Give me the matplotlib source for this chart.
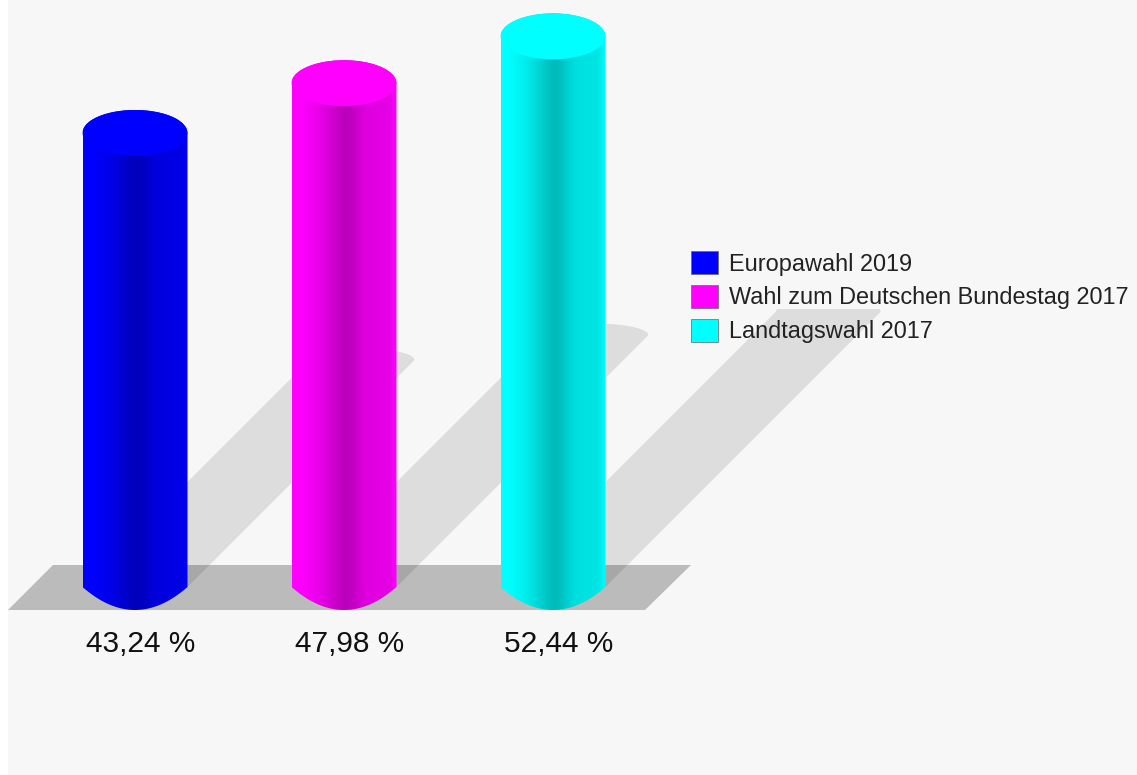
import numpy as np
import matplotlib
matplotlib.use('Agg')
import matplotlib.pyplot as plt
from matplotlib.patches import Patch, Polygon, Rectangle

labels = ['Europawahl 2019', 'Wahl zum Deutschen Bundestag 2017', 'Landtagswahl 2017']
values = [43.24, 47.98, 52.44]
value_labels = ['43,24 %', '47,98 %', '52,44 %']
colors = ['#0000ff', '#ff00ff', '#00ffff']

# pixel layout of the picture
W, H = 1137, 775
X0, STEP = 135, 209      # first bar centre, px per category
Y0, SCALE = 587, 10.5    # zero line, px per percent
HALF_W = 52.5 / STEP
CAP_H = 23 / SCALE
SHADOW_TOP = (Y0 - 309) / SCALE   # shadows are cut off here

plt.rcParams['font.family'] = ['Liberation Sans', 'DejaVu Sans']

fig = plt.figure(figsize=(W / 100, H / 100), dpi=100, facecolor='white')
ax = fig.add_axes([0, 0, 1, 1])
ax.axis('off')

# grey background, a thin white strip stays on the left
fig.add_artist(Rectangle((8 / W, 0), 1 - 8 / W, 1, transform=fig.transFigure,
                         fc='#f7f7f7', ec='none', zorder=-1))


def arc(xc, yc, b, start, stop, n=40):
    t = np.linspace(start, stop, n)
    return np.column_stack([xc + HALF_W * np.cos(t), yc + b * np.sin(t)])


def bottom(xc, n=40):
    # the lower end is flatter at the sides than an ellipse
    u = np.linspace(-1, 1, n)
    return np.column_stack([xc + HALF_W * u, -CAP_H * (1 - u ** 2)])


def shade(base):
    # dark stripe in the middle of the cylinder
    pos = [0, 0.08, 0.25, 0.5, 0.56, 0.7, 0.93, 1]
    fac = [1, 1, 0.92, 0.73, 0.75, 0.87, 0.9, 1]
    xs = np.linspace(0, 1, 256)
    f = np.interp(xs, pos, fac)
    return np.array(matplotlib.colors.to_rgb(base))[None, None, :] * f[None, :, None]


# floor
floor = np.array([(8, 610), (645, 610), (691, 565), (53, 565)], dtype=float)
floor_data = np.column_stack([(floor[:, 0] - X0) / STEP, (Y0 - floor[:, 1]) / SCALE])
ax.add_patch(Polygon(floor_data, closed=True, fc='#bbbbbb', ec='none', zorder=1))

# shadows fall at 45 degrees, half as long as the bar
for i, v in enumerate(values):
    dy = v * 0.5
    dx = dy * SCALE / STEP
    tip = arc(i + dx, dy, CAP_H / 2, 0, np.pi)
    tip[:, 1] = np.minimum(tip[:, 1], SHADOW_TOP)
    pts = np.vstack([tip, [(i - HALF_W, 0), (i + HALF_W, 0)]])
    ax.add_patch(Polygon(pts, closed=True, fc='black', alpha=0.1, ec='none', zorder=2))

# cylinders
for i, (v, c) in enumerate(zip(values, colors)):
    outline = np.vstack([arc(i, v, CAP_H, 0, np.pi), bottom(i)])
    im = ax.imshow(shade(c), extent=[i - HALF_W, i + HALF_W, -CAP_H, v + CAP_H],
                   aspect='auto', zorder=3, interpolation='bilinear')
    im.set_clip_path(Polygon(outline, closed=True, transform=ax.transData))
    top = arc(i, v, CAP_H, 0, 2 * np.pi)
    ax.add_patch(Polygon(top, closed=True, fc=c, ec='none', zorder=4))
    ax.text(i + 6 / STEP, -57 / SCALE, value_labels[i], ha='center', va='center',
            fontsize=21.5, color='#111111', zorder=5)

ax.set_xlim(-X0 / STEP, (W - X0) / STEP)
ax.set_ylim((Y0 - H) / SCALE, Y0 / SCALE)

handles = [Patch(fc=c, ec='#666666', lw=0.5) for c in colors]
ax.legend(handles, labels, loc='upper left', bbox_to_anchor=(691 / W, 1 - 251 / H),
          bbox_transform=fig.transFigure, frameon=False, fontsize=16.9,
          borderpad=0, borderaxespad=0, handlelength=1.14, handleheight=1.14,
          handletextpad=0.47, labelspacing=0.4, labelcolor='#222222')

fig.savefig('out.png', dpi=100, facecolor=fig.get_facecolor())
